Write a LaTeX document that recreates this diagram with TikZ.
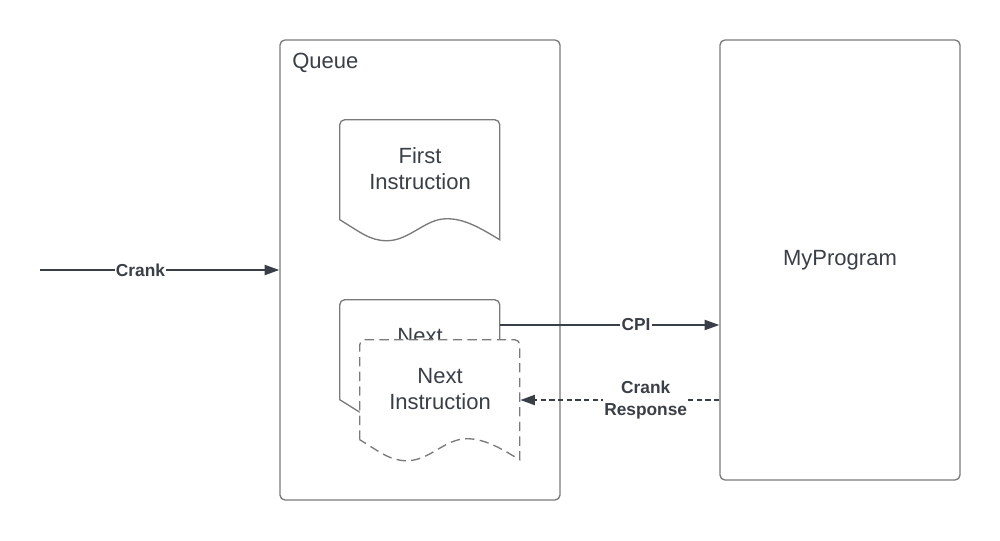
\documentclass[tikz,border=0pt]{standalone}
\usepackage{fontspec}
\setmainfont{Liberation Sans}
\usepackage{tikz}
\usetikzlibrary{arrows.meta,calc}
\usepackage{xcolor}
\definecolor{BoxGray}{HTML}{7a7a7a}
\definecolor{InkDark}{HTML}{3a3f47}

% outline of a document sheet, drawn from its north west corner
\newcommand{\sheetoutline}[2][]{%
  \draw[sheet,#1,shift={(#2.north west)}]
    (0,100) [rounded corners=3.75pt] -- (0,0) -- (160,0) [sharp corners] -- (160,120)
    .. controls (140,108) and (125,99) .. (107,99)
    .. controls (85,99) and (70,121) .. (47,121)
    .. controls (30,121) and (20,112) .. (0,100) -- cycle;}

\begin{document}
\begin{tikzpicture}[x=0.75pt,y=-0.75pt,
    bigtext/.style={text=InkDark,font=\fontsize{16.5}{19.5}\selectfont,align=center,inner sep=0pt},
    container/.style={draw=BoxGray,line width=1pt,rounded corners=3.75pt,
      minimum width=#1},
    sheetspot/.style={minimum width=120pt,minimum height=90pt,inner sep=0pt},
    sheet/.style={draw=BoxGray,line width=1pt,fill=white},
    flow/.style={draw=InkDark,line width=1.5pt,-{Triangle[length=11pt,width=7.5pt]}},
    flowlabel/.style={fill=white,text=InkDark,inner sep=1pt,align=center,
      font=\bfseries\fontsize{13}{16.5}\selectfont}]
    \useasboundingbox (0,0) rectangle (1000,540);

    % containers
    \node[container=210pt,minimum height=345pt] (queue) at (420,270) {};
    \node[container=180pt,minimum height=330pt,bigtext] (myprog) at (840,260) {MyProgram};
    \node[bigtext,anchor=west] (queuelabel) at (292,63) {Queue};

    % sheets in the queue
    \node[sheetspot] (first) at (420,180) {};
    \sheetoutline{first}
    \node[bigtext] (firsttext) at (420,169) {First\\Instruction};

    \node[sheetspot] (nextback) at (420,360) {};
    \sheetoutline{nextback}
    \node[bigtext] (nextbacktext) at (420,349) {Next\\Instruction};

    \node[sheetspot] (nextfront) at (440,400) {};
    \sheetoutline[dash pattern=on 7pt off 4pt]{nextfront}
    \node[bigtext] (nextfronttext) at (440,389) {Next\\Instruction};

    % connectors
    \coordinate (crankin) at (40,270);
    \coordinate (cpiout) at ([yshift=26.25pt]nextback.east);
    \draw[flow] (crankin) -- node[flowlabel,pos=0.42] {Crank} (queue.west);
    \draw[flow] (cpiout) -- node[flowlabel,pos=0.62] {CPI} (cpiout -| myprog.west);
    \draw[flow,dash pattern=on 4pt off 2.5pt] (nextfront.east -| myprog.west)
      -- node[flowlabel,pos=0.37] {Crank\\Response} (nextfront.east);
\end{tikzpicture}
\end{document}
